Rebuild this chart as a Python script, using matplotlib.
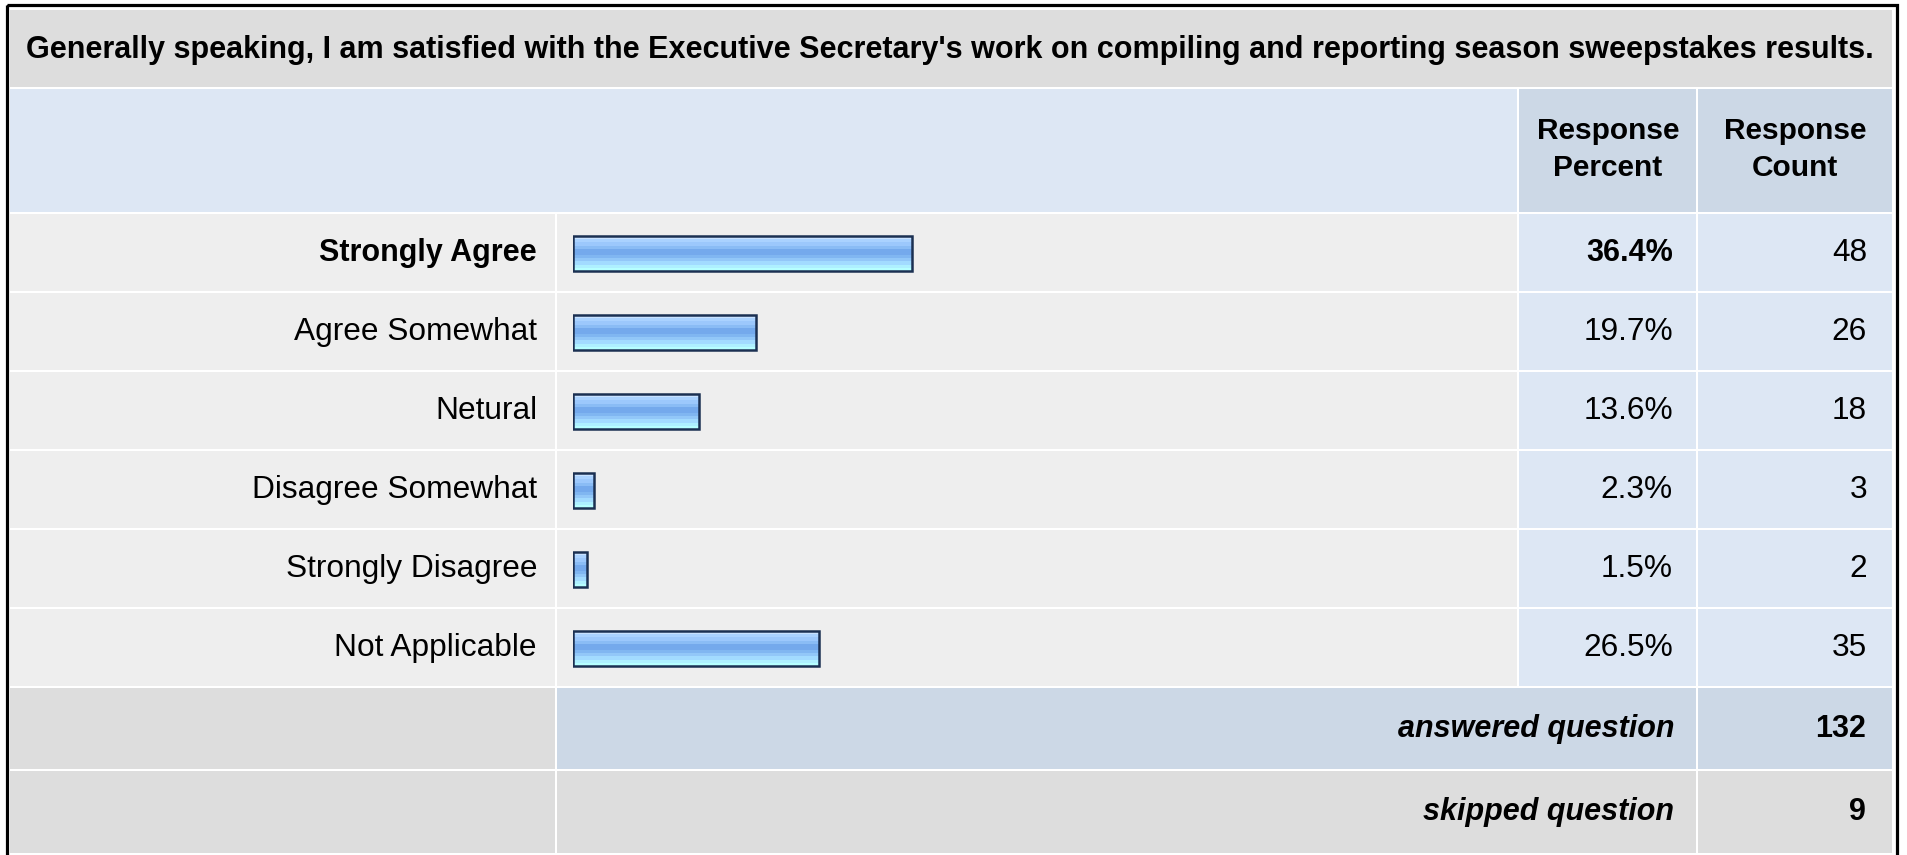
import numpy as np
import matplotlib
matplotlib.use("Agg")
import matplotlib.pyplot as plt
from matplotlib.patches import Rectangle

plt.rcParams['font.family'] = ['Liberation Sans', 'DejaVu Sans']

# survey data
question = ("Generally speaking, I am satisfied with the Executive Secretary's work "
            "on compiling and reporting season sweepstakes results.")
answers = ["Strongly Agree", "Agree Somewhat", "Netural", "Disagree Somewhat",
           "Strongly Disagree", "Not Applicable"]
percents = [36.4, 19.7, 13.6, 2.3, 1.5, 26.5]
counts = [48, 26, 18, 3, 2, 35]
answered = 132
skipped = 9
top_answer = 0  # row shown in bold

W, H = 1907, 855
fig = plt.figure(figsize=(W / 100, H / 100), dpi=100)
ax = fig.add_axes([0, 0, 1, 1])
ax.set_xlim(0, W)
ax.set_ylim(H, 0)
ax.axis('off')

GREY = '#DDDDDD'
ROW = '#EEEEEE'
BLUE = '#DDE7F4'
BLUE2 = '#CCD8E6'
FS = 22.8   # regular text
FSB = 22.0  # bold text

def cell(x0, x1, y0, y1, color):
    ax.add_patch(Rectangle((x0, y0), x1 - x0, y1 - y0, facecolor=color, edgecolor='none'))

# column edges
c_lab = (10, 555)
c_bar = (557, 1517)
c_pct = (1519, 1696)
c_cnt = (1698, 1892)

# outer frame
ax.add_patch(Rectangle((6.5, 5.5), 1890, 900, facecolor='none', edgecolor='black', lw=2.3))

# title
cell(10, 1892, 10, 87, GREY)
ax.text(950, 50, question, ha='center', va='center', fontsize=22.0, fontweight='bold')

# header
cell(10, 1517, 89, 212, BLUE)
cell(*c_pct, 89, 212, BLUE2)
cell(*c_cnt, 89, 212, BLUE2)
for cx, word in [(1608, "Percent"), (1795, "Count")]:
    ax.text(cx, 131, "Response", ha='center', va='center', fontsize=21.5, fontweight='bold')
    ax.text(cx, 168, word, ha='center', va='center', fontsize=21.5, fontweight='bold')

row_top, row_h = 214, 79
for i, (lab, p, c) in enumerate(zip(answers, percents, counts)):
    y0 = row_top + i * row_h
    y1 = y0 + row_h - 2
    yc = (y0 + y1) / 2
    cell(*c_lab, y0, y1, ROW)
    cell(*c_bar, y0, y1, ROW)
    cell(*c_pct, y0, y1, BLUE)
    cell(*c_cnt, y0, y1, BLUE)
    bold = i == top_answer
    fw = 'bold' if bold else 'normal'
    fs = FSB if bold else FS
    ax.text(537, yc, lab, ha='right', va='center', fontsize=fs, fontweight=fw)
    ax.text(1673, yc, f"{p:.1f}%", ha='right', va='center', fontsize=fs, fontweight=fw)
    ax.text(1867, yc, str(c), ha='right', va='center', fontsize=FS)

# summary rows
y0 = row_top + len(answers) * row_h
cell(*c_lab, y0, y0 + 81, GREY)
cell(557, 1696, y0, y0 + 81, BLUE2)
cell(*c_cnt, y0, y0 + 81, BLUE2)
ax.text(1674, y0 + 41, "answered question", ha='right', va='center', fontsize=FSB,
        fontweight='bold', style='italic')
ax.text(1866, y0 + 41, str(answered), ha='right', va='center', fontsize=FSB, fontweight='bold')
y0 += 83
cell(*c_lab, y0, y0 + 82, GREY)
cell(557, 1696, y0, y0 + 82, GREY)
cell(*c_cnt, y0, y0 + 82, GREY)
ax.text(1674, y0 + 41, "skipped question", ha='right', va='center', fontsize=FSB,
        fontweight='bold', style='italic')
ax.text(1866, y0 + 41, str(skipped), ha='right', va='center', fontsize=FSB, fontweight='bold')

# bars in their own axes, x in percent
bx0, bx1 = 573, 573 + 930
by0, by1 = row_top, row_top + len(answers) * row_h
bax = fig.add_axes([bx0 / W, 1 - by1 / H, (bx1 - bx0) / W, (by1 - by0) / H])
bax.axis('off')
bax.patch.set_alpha(0)

stripes = ['#C8E2FF', '#AAD2FF', '#9CC8FC', '#8ABCF5', '#74A9EC', '#74A9EC',
           '#80B6F1', '#92C7F8', '#A2DBFF', '#AEF0FF', '#B6FFFF']
grad = np.array([matplotlib.colors.to_rgb(s) for s in stripes])[:, None, :]
bh = 0.44
for i, p in enumerate(percents):
    bax.imshow(grad, extent=(0, p, i + bh / 2, i - bh / 2), origin='upper',
               aspect='auto', interpolation='nearest', zorder=2)
    bax.barh(i, p, height=bh, facecolor='none', edgecolor='#1B3052', lw=1.8, zorder=3)
bax.set_xlim(0, 100)
bax.set_ylim(len(answers) - 0.5, -0.5)

fig.savefig('out.png', dpi=100)
